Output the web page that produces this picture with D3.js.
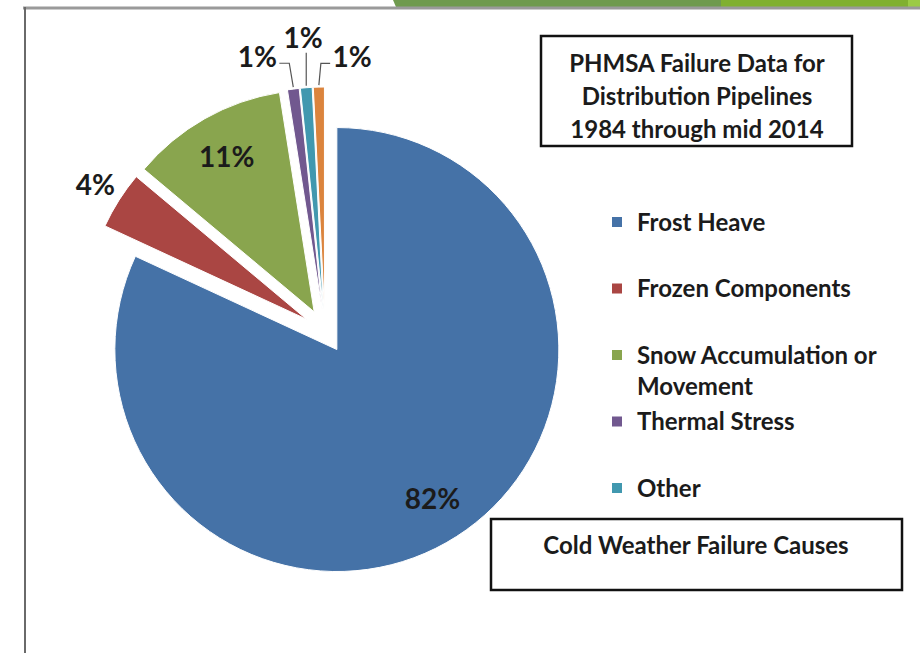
<!DOCTYPE html>
<html>
<head>
<meta charset="utf-8">
<script src="https://cdn.jsdelivr.net/npm/d3@7"></script>
<style>
  body { margin: 0; background: #fff; }
  svg { display: block; font-family: Lato, "Open Sans", sans-serif; font-weight: bold; }
</style>
</head>
<body>
<svg id="chart" width="920" height="653"></svg>
<script>
// values (labels are rounded)
const causes = ["Frost Heave", "Frozen Components", "Snow Accumulation or Movement",
                "Thermal Stress", "Other", "Unlisted"];
const shares = [81.9, 4.2, 11.4, 0.85, 0.85, 0.8];
const sliceColors = ["#4572A7", "#AA4643", "#89A54E", "#71588F", "#4198AF", "#DB843D"];
const legendLines = [["Frost Heave"], ["Frozen Components"], ["Snow Accumulation or", "Movement"],
                     ["Thermal Stress"], ["Other"]];
const titleLines = ["PHMSA Failure Data for", "Distribution Pipelines", "1984 through mid 2014"];
const subTitle = "Cold Weather Failure Causes";

let svg = d3.select("#chart");

// slide template decoration (top band + frame)
let band = svg.append("g");
band.append("polygon").attr("points", "393,0 721,0 721,7 396,7").attr("fill", "#6F9A4E");
band.append("rect").attr("x", 721).attr("y", 0).attr("width", 187).attr("height", 7).attr("fill", "#80B030");
band.append("rect").attr("x", 908).attr("y", 0).attr("width", 12).attr("height", 7).attr("fill", "#9BCB45");
svg.append("line").attr("x1", 23).attr("x2", 920).attr("y1", 8).attr("y2", 8)
   .attr("stroke", "#9a9a9a").attr("stroke-width", 3);
svg.append("line").attr("x1", 25).attr("x2", 25).attr("y1", 7).attr("y2", 653)
   .attr("stroke", "#6a6a6a").attr("stroke-width", 2);

// pie, every slice exploded a little
let cx = 325, cy = 331, radius = 222, explode = 22;

let pie = d3.pie().sort(null).value(d => d);
let arcs = pie(shares);
let arc = d3.arc().innerRadius(0).outerRadius(radius);

let midAngle = d => (d.startAngle + d.endAngle) / 2;
let polar = (a, r) => [Math.sin(a) * r, -Math.cos(a) * r];
let shift = d => polar(midAngle(d), explode);

let pieG = svg.append("g").attr("transform", `translate(${cx},${cy})`);

pieG.selectAll("path.slice")
    .data(arcs)
    .join("path")
    .attr("class", "slice")
    .attr("d", arc)
    .attr("transform", d => `translate(${shift(d)})`)
    .attr("fill", (d, i) => sliceColors[i])
    .attr("stroke", "#fff")
    .attr("stroke-width", 1);

// data labels
let fmt = v => `${d3.format(".0f")(v)}%`;
let labelPos = (d, i) => {
  let a = midAngle(d);
  if (i === 1) return polar(a, radius + explode + 28);
  if (i < 3) return polar(a, explode + radius * 0.8);
  // the three small slices: labels spread out around the top
  let spread = [-0.112, 0.002, 0.124][i - 3],
      r = [282, 294, 275][i - 3];
  return polar(a + spread, r);
};

pieG.selectAll("text.pct")
    .data(arcs)
    .join("text")
    .attr("class", "pct")
    .attr("x", (d, i) => labelPos(d, i)[0])
    .attr("y", (d, i) => labelPos(d, i)[1])
    .attr("dy", "0.36em")
    .attr("text-anchor", "middle")
    .attr("font-size", 28)
    .attr("fill", "#1b1b1b")
    .text(d => fmt(d.data));

// leader lines for the small slices
let leader = (d, i) => {
  let [sx, sy] = shift(d),
      [ox, oy] = polar(midAngle(d), radius);
  let tip = [sx + ox, sy + oy - 2],
      [lx, ly] = labelPos(d, i);
  if (i === 4) return [tip, [tip[0], ly + 15]];
  let edge = i === 3 ? lx + 22 : lx - 22,
      knee = [tip[0] + (i === 3 ? -4 : 2), ly + 6];
  return [tip, knee, [edge, ly + 6]];
};

pieG.selectAll("path.leader")
    .data(arcs.slice(3))
    .join("path")
    .attr("class", "leader")
    .attr("d", (d, j) => d3.line()(leader(d, j + 3)))
    .attr("fill", "none")
    .attr("stroke", "#555")
    .attr("stroke-width", 1.2);

// title box
let titleG = svg.append("g");
titleG.append("rect").attr("x", 541).attr("y", 36).attr("width", 311).attr("height", 110)
      .attr("fill", "#fff").attr("stroke", "#111").attr("stroke-width", 2.5);
titleG.selectAll("text")
      .data(titleLines)
      .join("text")
      .attr("x", 697)
      .attr("y", (d, i) => 72 + i * 33)
      .attr("text-anchor", "middle")
      .attr("font-size", 24)
      .attr("fill", "#1b1b1b")
      .text(d => d);

// legend (5 entries shown)
let legendY = d3.scalePoint().domain(d3.range(legendLines.length)).range([222, 488]);
let legend = svg.append("g").attr("class", "legend");
let items = legend.selectAll("g")
    .data(legendLines)
    .join("g")
    .attr("transform", (d, i) => `translate(612,${legendY(i)})`);
items.append("rect").attr("x", 0).attr("y", -5).attr("width", 10).attr("height", 10)
     .attr("fill", (d, i) => sliceColors[i]);
items.each(function(lines) {
  let t = d3.select(this).append("text")
      .attr("x", 25).attr("y", 0)
      .attr("font-size", 24)
      .attr("fill", "#1b1b1b");
  lines.forEach((ln, k) => {
    t.append("tspan").attr("x", 25).attr("dy", k === 0 ? "0.36em" : 31).text(ln);
  });
});

// sub title box
let subG = svg.append("g");
subG.append("rect").attr("x", 491).attr("y", 519).attr("width", 411).attr("height", 71)
    .attr("fill", "#fff").attr("stroke", "#111").attr("stroke-width", 2.5);
subG.append("text")
    .attr("x", 696).attr("y", 545).attr("dy", "0.36em")
    .attr("text-anchor", "middle")
    .attr("font-size", 24)
    .attr("fill", "#1b1b1b")
    .text(subTitle);
</script>
</body>
</html>
